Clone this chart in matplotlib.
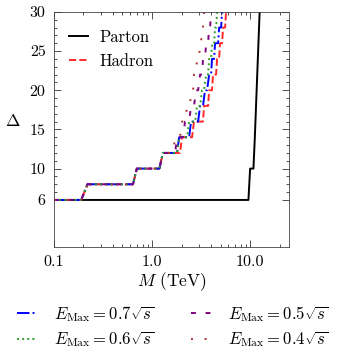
import matplotlib
matplotlib.use("Agg")
import matplotlib.pyplot as plt
from matplotlib.ticker import FixedLocator, FixedFormatter, LogLocator, NullFormatter

plt.rcParams['font.family'] = 'serif'
plt.rcParams['font.serif'] = ['cmr10']
plt.rcParams['mathtext.fontset'] = 'cm'
plt.rcParams['axes.formatter.use_mathtext'] = True
plt.rcParams['axes.unicode_minus'] = False

# Parton / Hadron
parton_M = [0.1, 9.61, 10.0, 10.81, 11.17, 12.5]
parton_D = [6, 6, 10, 10, 14, 30]

hadron_M = [0.1, 0.19, 0.22, 0.64, 0.70, 1.19, 1.29, 1.93, 2.02, 2.56, 2.68, 3.31, 3.39,
            3.73, 3.82, 4.09, 4.19, 4.50, 4.61, 4.83, 4.94, 5.18, 5.30, 5.56, 5.82]
hadron_D = [6, 6, 8, 8, 10, 10, 12, 12, 14, 14, 16, 16, 18,
            18, 20, 20, 22, 22, 24, 24, 26, 26, 28, 28, 32]

# E_Max variants
e07_M = [0.1, 0.19, 0.22, 0.64, 0.70, 1.19, 1.29, 1.80, 1.89, 2.39, 2.50, 2.95, 3.09,
         3.31, 3.47, 3.64, 3.82, 4.00, 4.09, 4.29, 4.39, 4.72, 4.83, 5.06, 5.30]
e07_D = [6, 6, 8, 8, 10, 10, 12, 12, 14, 14, 16, 16, 18,
         18, 20, 20, 22, 22, 24, 24, 26, 26, 28, 28, 32]

e06_M = [0.1, 0.19, 0.22, 0.64, 0.70, 1.19, 1.29, 1.80, 1.89, 2.28, 2.39, 2.75, 2.88,
         3.09, 3.24, 3.39, 3.56, 3.73, 3.82, 4.00, 4.09, 4.29, 4.39, 4.50, 4.72]
e06_D = e07_D

e05_M = [0.1, 0.19, 0.22, 0.64, 0.70, 1.19, 1.29, 1.72, 1.80, 2.07, 2.17, 2.39, 2.50,
         2.68, 2.81, 2.95, 3.09, 3.24, 3.31, 3.47, 3.56, 3.73, 3.82, 3.91, 4.09]
e05_D = e07_D

e04_M = [0.1, 0.19, 0.22, 0.64, 0.70, 1.19, 1.29, 1.64, 1.72, 1.93, 2.02, 2.17, 2.28,
         2.44, 2.50, 2.62, 2.68, 2.81, 2.88, 3.02, 3.09, 3.16, 3.24, 3.31, 3.47]
e04_D = e07_D

fig = plt.figure(figsize=(3.39, 3.60), dpi=100)
ax = fig.add_axes([0.159, 0.314, 0.694, 0.653])

l_parton, = ax.plot(parton_M, parton_D, color='black', lw=1.4, label='Parton')
l_hadron, = ax.plot(hadron_M, hadron_D, color='#ff2a2a', lw=1.4, ls='--', label='Hadron')
l07, = ax.plot(e07_M, e07_D, color='blue', lw=1.4, ls='-.', label=r'$E_{\rm Max} = 0.7\sqrt{s}$')
l06, = ax.plot(e06_M, e06_D, color='#2ca02c', lw=1.4, ls=':', label=r'$E_{\rm Max} = 0.6\sqrt{s}$')
l05, = ax.plot(e05_M, e05_D, color='purple', lw=1.4, ls=(0, (2.5, 5)), label=r'$E_{\rm Max} = 0.5\sqrt{s}$')
l04, = ax.plot(e04_M, e04_D, color='#b03030', lw=1.4, ls=(0, (1, 6)), label=r'$E_{\rm Max} = 0.4\sqrt{s}$')

ax.set_xscale('log')
ax.set_xlim(0.1, 25)
ax.set_ylim(0, 30)

ax.xaxis.set_major_locator(FixedLocator([0.1, 1.0, 10.0]))
ax.xaxis.set_major_formatter(FixedFormatter(['0.1', '1.0', '10.0']))
ax.xaxis.set_minor_locator(LogLocator(base=10, subs=range(2, 10)))
ax.xaxis.set_minor_formatter(NullFormatter())

ax.yaxis.set_major_locator(FixedLocator([6, 10, 15, 20, 25, 30]))
ax.yaxis.set_major_formatter(FixedFormatter(['6', '10', '15', '20', '25', '30']))
ax.yaxis.set_minor_locator(FixedLocator([v for v in range(7, 30) if v not in (10, 15, 20, 25)]))

ax.tick_params(which='both', direction='in', top=True, right=True, labelsize=11.5, width=0.6, color='#333333')
ax.tick_params(which='major', length=5, pad=6)
ax.tick_params(which='minor', length=2.5)
for s in ax.spines.values():
    s.set_linewidth(0.6)
    s.set_color('#444444')

ax.set_xlabel(r'$M$ (TeV)', fontsize=12.5, labelpad=1)
ax.set_ylabel(r'$\Delta$', fontsize=12.5, rotation=0, va='center')
ax.yaxis.set_label_coords(-0.175, 0.535)

ax.legend(handles=[l_parton, l_hadron], loc='upper left', frameon=False, fontsize=12,
          handlelength=1.15, handletextpad=0.7, labelspacing=0.55, bbox_to_anchor=(0.0, 0.99))

fig.legend(handles=[l07, l06, l05, l04], loc='upper center', ncol=2, frameon=False, fontsize=12,
           handlelength=1.2, handletextpad=1.0, labelspacing=0.35, columnspacing=2.2,
           bbox_to_anchor=(0.51, 0.198), bbox_transform=fig.transFigure)

fig.savefig('out.png', dpi=100)
